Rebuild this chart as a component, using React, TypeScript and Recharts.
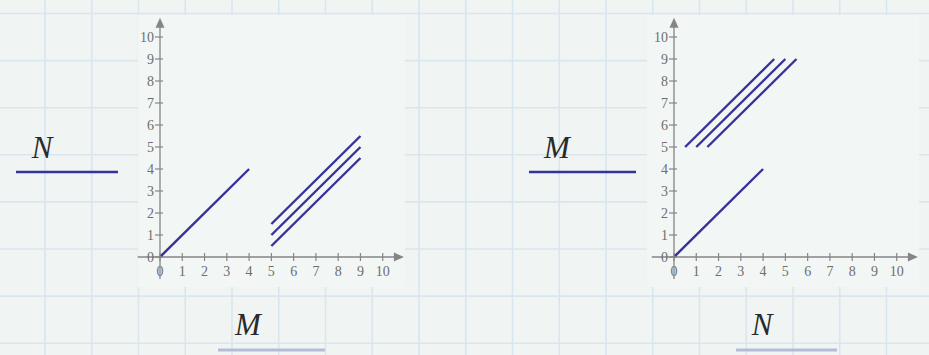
import React from 'react';
import { LineChart, Line, XAxis, YAxis, ReferenceLine, ReferenceDot } from 'recharts';

// ---- data ----
const xTicks = [0, 1, 2, 3, 4, 5, 6, 7, 8, 9, 10];
const yTicks = [0, 1, 2, 3, 4, 5, 6, 7, 8, 9, 10];
const axisStart = -1;
const xArrowTip = 10.95;
const yArrowTip = 10.88;

// left plot: N versus M
const leftDiagX = [0, 4];
const leftDiagY = [0, 4];
const leftUpperX = [5, 9];
const leftUpperY = [1.5, 5.5];
const leftMiddleX = [5, 9];
const leftMiddleY = [1, 5];
const leftLowerX = [5, 9];
const leftLowerY = [0.5, 4.5];

// right plot: M versus N
const rightDiagX = [0, 4];
const rightDiagY = [0, 4];
const rightFirstX = [0.5, 4.5];
const rightFirstY = [5, 9];
const rightSecondX = [1, 5];
const rightSecondY = [5, 9];
const rightThirdX = [1.5, 5.5];
const rightThirdY = [5, 9];

const toPoints = (xs: number[], ys: number[]) => xs.map((x, i) => ({ x, y: ys[i] }));

const leftSeries = [
  toPoints(leftDiagX, leftDiagY),
  toPoints(leftUpperX, leftUpperY),
  toPoints(leftMiddleX, leftMiddleY),
  toPoints(leftLowerX, leftLowerY),
];
const rightSeries = [
  toPoints(rightDiagX, rightDiagY),
  toPoints(rightFirstX, rightFirstY),
  toPoints(rightSecondX, rightSecondY),
  toPoints(rightThirdX, rightThirdY),
];

// ---- styles ----
const PAGE_BG = '#f0f5f3';
const PLOT_BG = '#f2f6f4';
const GRID = '#d9e6ee';
const AXIS = '#858585';
const LABEL = '#6e6e6e';
const TRACE = '#35339a';
const SERIF = '"Liberation Serif", "Times New Roman", serif';

const XTick = (props: any) => {
  const { x, y, payload } = props;
  return (
    <g>
      <line x1={x} x2={x} y1={y - 4} y2={y + 4} stroke={AXIS} strokeWidth={1.2} />
      <text x={x} y={y + 19} textAnchor="middle" fill={LABEL} fontFamily={SERIF} fontSize={14}>
        {payload.value}
      </text>
    </g>
  );
};

const YTick = (props: any) => {
  const { x, y, payload } = props;
  return (
    <g>
      <line x1={x - 5} x2={x + 3} y1={y} y2={y} stroke={AXIS} strokeWidth={1.2} />
      <text x={x - 6} y={y} dy="0.35em" textAnchor="end" fill={LABEL} fontFamily={SERIF} fontSize={14}>
        {payload.value}
      </text>
    </g>
  );
};

const XArrow = (p: any) => (
  <polygon points={`${p.cx},${p.cy} ${p.cx - 10},${p.cy - 4.5} ${p.cx - 10},${p.cy + 4.5}`} fill={AXIS} />
);
const YArrow = (p: any) => (
  <polygon points={`${p.cx},${p.cy} ${p.cx - 4.5},${p.cy + 10} ${p.cx + 4.5},${p.cy + 10}`} fill={AXIS} />
);

const Plot = ({ series, left }: { series: { x: number; y: number }[][]; left: number }) => (
  <div style={{ position: 'absolute', left, top: 0 }}>
    <LineChart width={297} height={292} margin={{ top: 15, right: 20, bottom: 0, left: 0 }}>
      <XAxis
        type="number"
        dataKey="x"
        domain={[0, 11]}
        ticks={xTicks}
        interval={0}
        allowDataOverflow
        axisLine={false}
        tickLine={false}
        tickSize={0}
        tickMargin={0}
        height={35}
        tick={<XTick />}
      />
      <YAxis
        type="number"
        dataKey="y"
        domain={[0, 11]}
        ticks={yTicks}
        interval={0}
        allowDataOverflow
        axisLine={false}
        tickLine={false}
        tickSize={0}
        tickMargin={0}
        width={32}
        tick={<YTick />}
      />
      <ReferenceLine
        segment={[{ x: axisStart, y: 0 }, { x: xArrowTip - 0.3, y: 0 }]}
        stroke={AXIS}
        strokeWidth={1.3}
        ifOverflow="visible"
      />
      <ReferenceLine
        segment={[{ x: 0, y: axisStart }, { x: 0, y: yArrowTip - 0.3 }]}
        stroke={AXIS}
        strokeWidth={1.3}
        ifOverflow="visible"
      />
      <ReferenceDot x={xArrowTip} y={0} r={4} shape={XArrow} ifOverflow="visible" />
      <ReferenceDot x={0} y={yArrowTip} r={4} shape={YArrow} ifOverflow="visible" />
      {series.map((pts, i) => (
        <Line
          key={i}
          data={pts}
          dataKey="y"
          type="linear"
          stroke={TRACE}
          strokeWidth={2.4}
          dot={false}
          activeDot={false}
          isAnimationActive={false}
        />
      ))}
    </LineChart>
  </div>
);

const gridXs = Array.from({ length: 21 }, (_, i) => 45 + i * 46.75);
const gridYs = Array.from({ length: 8 }, (_, i) => 13.5 + i * 47.1);

export default function App() {
  return (
    <div
      style={{
        position: 'fixed',
        left: 0,
        top: 0,
        width: 929,
        height: 355,
        overflow: 'hidden',
        background: PAGE_BG,
      }}
    >
      <svg width={929} height={355} style={{ position: 'absolute', left: 0, top: 0 }}>
        {gridXs.map((gx) => (
          <line key={'v' + gx} x1={gx} x2={gx} y1={0} y2={355} stroke={GRID} strokeWidth={1.6} />
        ))}
        {gridYs.map((gy) => (
          <line key={'h' + gy} x1={0} x2={929} y1={gy} y2={gy} stroke={GRID} strokeWidth={1.6} />
        ))}
        <rect x={138} y={15} width={267} height={272} fill={PLOT_BG} />
        <rect x={647} y={15} width={272} height={272} fill={PLOT_BG} />
      </svg>
      <Plot series={leftSeries} left={128} />
      <Plot series={rightSeries} left={642} />
      <svg width={929} height={355} style={{ position: 'absolute', left: 0, top: 0, pointerEvents: 'none' }}>
        <text x={42} y={158} textAnchor="middle" fontFamily={SERIF} fontStyle="italic" fontSize={31} fill="#2a2a2a">
          N
        </text>
        <line x1={16} x2={118} y1={172} y2={172} stroke={TRACE} strokeWidth={2.6} />
        <text x={557} y={158} textAnchor="middle" fontFamily={SERIF} fontStyle="italic" fontSize={31} fill="#2a2a2a">
          M
        </text>
        <line x1={529} x2={636} y1={172} y2={172} stroke={TRACE} strokeWidth={2.6} />
        <text x={248} y={335} textAnchor="middle" fontFamily={SERIF} fontStyle="italic" fontSize={31} fill="#2a2a2a">
          M
        </text>
        <line x1={218} x2={325} y1={350} y2={350} stroke="#b4bcd6" strokeWidth={3} />
        <text x={762} y={335} textAnchor="middle" fontFamily={SERIF} fontStyle="italic" fontSize={31} fill="#2a2a2a">
          N
        </text>
        <line x1={736} x2={837} y1={350} y2={350} stroke="#b4bcd6" strokeWidth={3} />
      </svg>
    </div>
  );
}
